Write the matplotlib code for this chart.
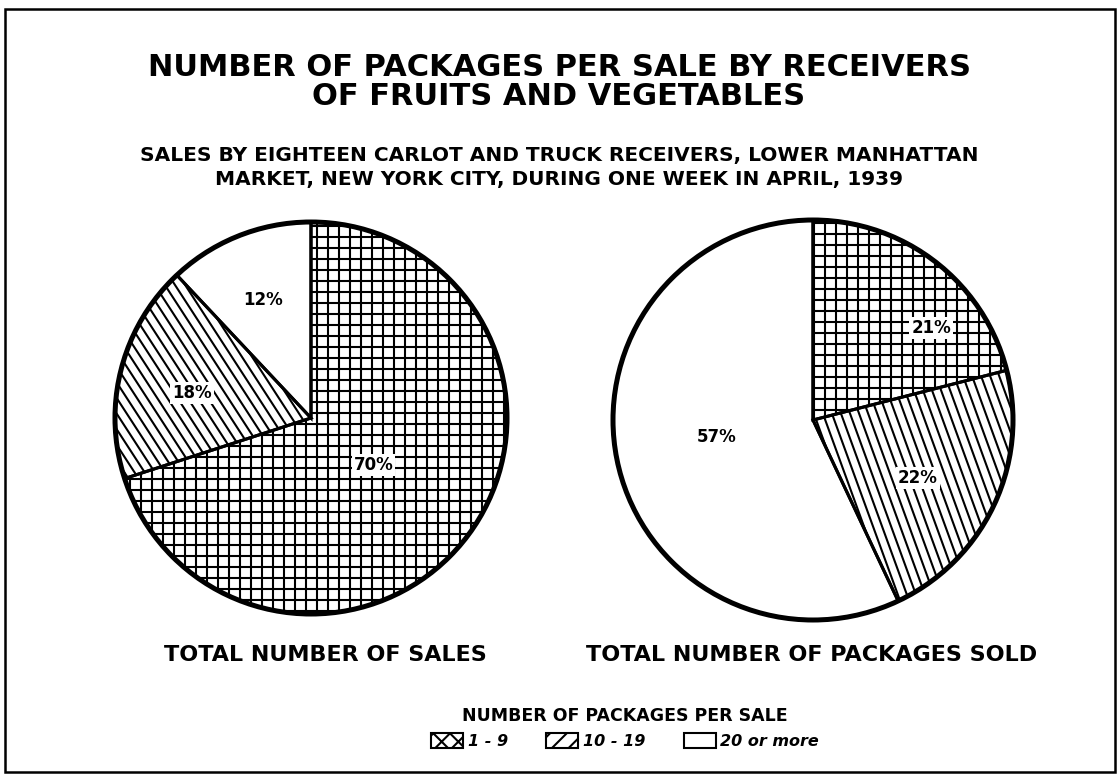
import matplotlib
matplotlib.use('Agg')
import matplotlib.pyplot as plt
import numpy as np
from matplotlib.patches import Wedge, Circle, Rectangle, Patch
from matplotlib.collections import LineCollection

plt.rcParams['font.family'] = ['DejaVu Sans']
plt.rcParams['hatch.linewidth'] = 1.5

# data
groups = ['1 - 9', '10 - 19', '20 or more']
sales_pct = [70, 18, 12]
packages_pct = [21, 22, 57]
pie_titles = ['TOTAL NUMBER OF SALES', 'TOTAL NUMBER OF PACKAGES SOLD']

title = 'NUMBER OF PACKAGES PER SALE BY RECEIVERS\nOF FRUITS AND VEGETABLES'
subtitle = ('SALES BY EIGHTEEN CARLOT AND TRUCK RECEIVERS, LOWER MANHATTAN\n'
            'MARKET, NEW YORK CITY, DURING ONE WEEK IN APRIL, 1939')
legend_title = 'NUMBER OF PACKAGES PER SALE'

W, H = 1118, 776
fig = plt.figure(figsize=(W / 100, H / 100), dpi=100)
fig.patch.set_facecolor('white')

# frame round the whole chart
fig.add_artist(Rectangle((5 / W, 1 - 772 / H), 1110 / W, 763 / H,
                         transform=fig.transFigure, fill=False,
                         edgecolor='black', linewidth=1.8))

fig.text(0.5, 1 - 53 / H, title, ha='center', va='top', fontsize=22,
         fontweight='bold', linespacing=1.02)
fig.text(0.5, 1 - 146 / H, subtitle, ha='center', va='top', fontsize=14.5,
         fontweight='bold', linespacing=1.35)


def hatch(ax, patch, angle, spacing, lw=1.5):
    th = np.radians(angle)
    d = np.array([np.cos(th), np.sin(th)])
    n = np.array([-np.sin(th), np.cos(th)])
    segs = [[o * n - 1.6 * d, o * n + 1.6 * d]
            for o in np.arange(-1.6, 1.6, spacing)]
    lc = LineCollection(segs, colors='black', linewidths=lw, zorder=2)
    ax.add_collection(lc, autolim=False)
    lc.set_clip_path(patch)


def draw_pie(cx, cy, R, values, hatches, label_pos, name, name_x):
    pad = 1.06
    ax = fig.add_axes([(cx - R * pad) / W, 1 - (cy + R * pad) / H,
                       2 * R * pad / W, 2 * R * pad / H])
    wedges, _ = ax.pie(values, startangle=90, counterclock=False,
                       wedgeprops=dict(facecolor='white', edgecolor='none',
                                       zorder=1))
    for w, h in zip(wedges, hatches):
        for ang, sp in h:
            hatch(ax, w, ang, sp / R)
    for w in wedges:
        ax.add_patch(Wedge((0, 0), 1, w.theta1, w.theta2, fill=False,
                           edgecolor='black', linewidth=2.2, zorder=3))
    ax.add_patch(Circle((0, 0), 1, fill=False, edgecolor='black',
                        linewidth=3.6, zorder=3))
    for v, (ang, r) in zip(values, label_pos):
        t = np.radians(ang)
        ax.text(r * np.cos(t), r * np.sin(t), f'{v}%', ha='center',
                va='center', fontsize=12, fontweight='bold', zorder=4,
                bbox=dict(facecolor='white', edgecolor='none', pad=1.5))
    ax.set_xlim(-pad, pad)
    ax.set_ylim(-pad, pad)
    ax.set_aspect('equal')
    ax.axis('off')
    fig.text(name_x / W, 1 - 655 / H, name, ha='center', va='center',
             fontsize=16, fontweight='bold')


grid = [(0, 11), (90, 11)]
draw_pie(311, 418, 196, sales_pct,
         [grid, [(-57, 8.5)], []],
         [(-37, 0.40), (168, 0.62), (112, 0.65)], pie_titles[0], 325)
draw_pie(813, 420, 200, packages_pct,
         [grid, [(-70, 8.5)], []],
         [(38, 0.75), (-29, 0.60), (190, 0.49)], pie_titles[1], 812)

handles = [Patch(facecolor='white', edgecolor='black', hatch='xx', lw=1.5),
           Patch(facecolor='white', edgecolor='black', hatch='//', lw=1.5),
           Patch(facecolor='white', edgecolor='black', lw=1.5)]
leg = fig.legend(handles, groups, loc='center',
                 bbox_to_anchor=(625 / W, 1 - 728 / H), ncol=3, frameon=False,
                 title=legend_title, handlelength=2.0, handleheight=1.1,
                 handletextpad=0.3, columnspacing=2.4,
                 prop=dict(size=11.5, weight='bold', style='italic'),
                 title_fontproperties=dict(size=12.5, weight='bold'))

fig.savefig('out.png', dpi=100, facecolor='white')
